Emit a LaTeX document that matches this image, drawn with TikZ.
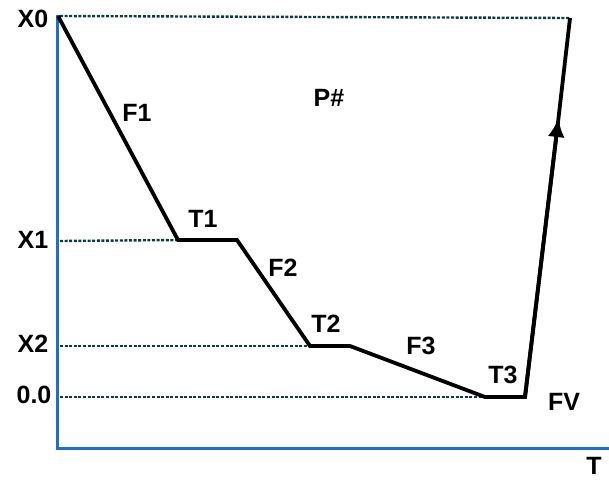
\documentclass[tikz,border=0pt]{standalone}
\usepackage{fontspec}
\setmainfont{Liberation Sans}
\usetikzlibrary{arrows.meta}
\definecolor{axisblue}{RGB}{30,110,205}
\definecolor{dotcol}{RGB}{10,60,60}
\begin{document}
\begin{tikzpicture}[x=1pt,y=-1pt,
  lbl/.style={font=\bfseries\fontsize{25}{25}\selectfont, inner sep=0pt, anchor=center},
  axisline/.style={draw=axisblue, line width=3pt},
  guide/.style={draw=dotcol, line width=2.4pt, dash pattern=on 3pt off 1.6pt},
  profile/.style={draw=black, line width=3.8pt, line join=miter}]
\useasboundingbox (0,0) rectangle (609,479);
\fill[white] (0,0) rectangle (609,479);
% axes
\coordinate (o) at (57,448);
\coordinate (ytop) at (57,15);
\coordinate (xend) at (609,448);
\draw[axisline] (ytop) -- (o) -- (xend);
% profile points
\coordinate (p0) at (58,16);
\coordinate (p1) at (178,240);
\coordinate (p2) at (237,240);
\coordinate (p3) at (310,346);
\coordinate (p4) at (350,346);
\coordinate (p5) at (485,397);
\coordinate (p6) at (525,397);
\coordinate (pm) at (558.5,118);
\coordinate (p7) at (570,18);
% guide lines
\coordinate (g0) at (60,16);
\coordinate (g1) at (60,241);
\coordinate (g2) at (60,346);
\coordinate (g3) at (60,397);
\draw[guide] (g0) -- (p7);
\draw[guide] (g1) -- (p1);
\draw[guide] (g2) -- (p3);
\draw[guide] (g3) -- (p5);
% profile
\draw[profile] (p0) -- (p1) -- (p2) -- (p3) -- (p4) -- (p5) -- (p6) -- (pm) -- (p7);
\draw[profile, -{Latex[length=19pt,width=17pt]}] (p6) -- (pm);
% labels
\node[lbl] (lx0) at (33,19) {X0};
\node[lbl] (lx1) at (33,240) {X1};
\node[lbl] (lx2) at (33,344) {X2};
\node[lbl] (l00) at (34,395) {0.0};
\node[lbl] (lf1) at (137,113) {F1};
\node[lbl] (lt1) at (203,219) {T1};
\node[lbl] (lf2) at (283,268) {F2};
\node[lbl] (lt2) at (326,324) {T2};
\node[lbl] (lf3) at (421,346) {F3};
\node[lbl] (lt3) at (503,375) {T3};
\node[lbl] (lfv) at (564,402) {FV};
\node[lbl] (lt) at (594,466) {T};
\node[lbl] (lp) at (329,98) {P\#};
\end{tikzpicture}
\end{document}
